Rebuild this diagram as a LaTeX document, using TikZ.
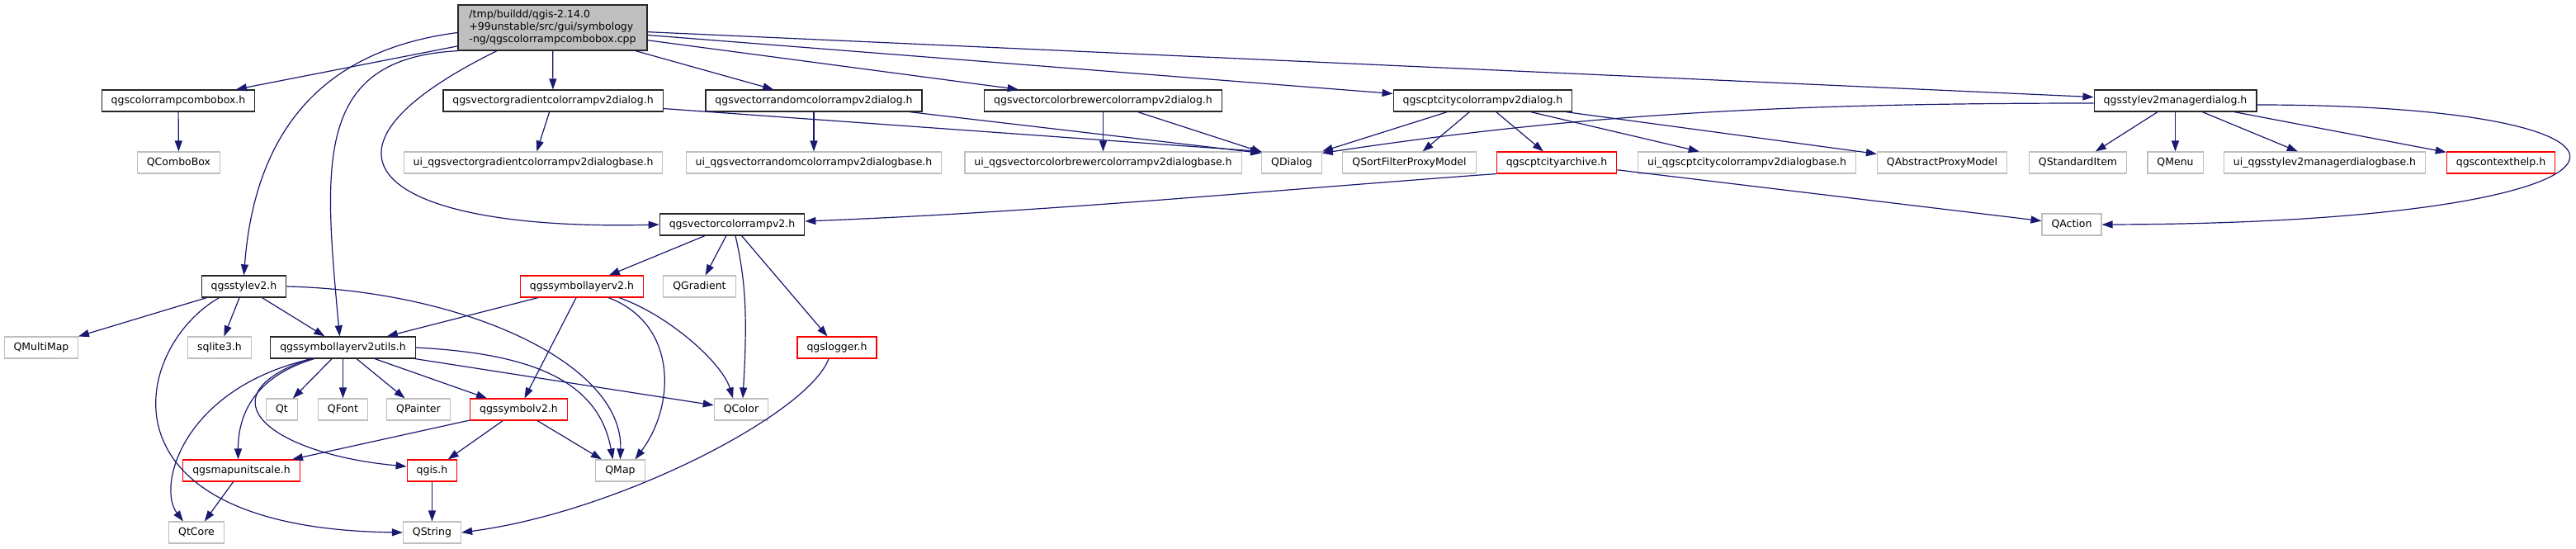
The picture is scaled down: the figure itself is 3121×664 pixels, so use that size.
\documentclass[tikz,border=0pt]{standalone}
\usepackage{fontspec}
\setmainfont{DejaVu Sans}
\usepackage{tikz}
\usetikzlibrary{arrows.meta}
\definecolor{edgeblue}{RGB}{25, 25, 112}
\definecolor{rimgray}{RGB}{191, 191, 191}
\definecolor{rootfill}{RGB}{191, 191, 191}
\definecolor{boxred}{RGB}{255, 0, 0}

\begin{document}
\begin{tikzpicture}[x=1pt, y=-1pt,
  file/.style={draw=black!85, fill=white, line width=1.3pt, minimum height=26pt, inner xsep=11.5pt, inner ysep=0pt, font=\fontsize{12.5}{15}\selectfont},
  ext/.style={file, draw=rimgray, line width=1.1pt},
  trunc/.style={file, draw=boxred, line width=1.1pt},
  inc/.style={draw=edgeblue, line width=1.2pt, -{Triangle[length=13pt, width=9pt]}}
]
  \path[fill=white, use as bounding box] (0,0) rectangle (3121,664);

  % Files
  \node[file, fill=rootfill, align=left, minimum width=229pt, minimum height=55pt] (root) at (669.5,33.5) {/tmp/buildd/qgis-2.14.0\\+99unstable/src/gui/symbology\\-ng/qgscolorrampcombobox.cpp};

  \node[file] (cbh) at (216,122) {qgscolorrampcombobox.h};
  \node[file] (vgd) at (670,122) {qgsvectorgradientcolorrampv2dialog.h};
  \node[file] (vrd) at (986,122) {qgsvectorrandomcolorrampv2dialog.h};
  \node[file] (vbd) at (1336.5,122) {qgsvectorcolorbrewercolorrampv2dialog.h};
  \node[file] (ccd) at (1796.5,122) {qgscptcitycolorrampv2dialog.h};
  \node[file] (smd) at (2635.5,122) {qgsstylev2managerdialog.h};

  \node[ext] (qcb) at (216.5,197) {QComboBox};
  \node[ext] (uvg) at (646,197) {ui\_qgsvectorgradientcolorrampv2dialogbase.h};
  \node[ext] (uvr) at (986,197) {ui\_qgsvectorrandomcolorrampv2dialogbase.h};
  \node[ext] (uvb) at (1336.5,197) {ui\_qgsvectorcolorbrewercolorrampv2dialogbase.h};
  \node[ext] (qdlg) at (1565,197) {QDialog};
  \node[ext] (qsfpm) at (1707.5,197) {QSortFilterProxyModel};
  \node[trunc] (cca) at (1886,197) {qgscptcityarchive.h};
  \node[ext] (ucc) at (2116.5,197) {ui\_qgscptcitycolorrampv2dialogbase.h};
  \node[ext] (qapm) at (2353,197) {QAbstractProxyModel};
  \node[ext] (qsi) at (2517.5,197) {QStandardItem};
  \node[ext] (qmenu) at (2635.5,197) {QMenu};
  \node[ext] (usm) at (2816.5,197) {ui\_qgsstylev2managerdialogbase.h};
  \node[trunc] (cth) at (3030,197) {qgscontexthelp.h};

  \node[file] (vcr) at (887,272) {qgsvectorcolorrampv2.h};
  \node[ext] (qact) at (2510,272) {QAction};

  \node[file] (sty) at (295.5,347) {qgsstylev2.h};
  \node[trunc] (slr) at (705,347) {qgssymbollayerv2.h};
  \node[ext] (qgrad) at (847.5,347) {QGradient};

  \node[ext] (qmm) at (50,421) {QMultiMap};
  \node[ext] (sql) at (266,421) {sqlite3.h};
  \node[file] (slu) at (415.5,421) {qgssymbollayerv2utils.h};
  \node[trunc] (log) at (1014,421) {qgslogger.h};

  \node[ext] (qt) at (341.5,496) {Qt};
  \node[ext] (qfont) at (415.5,496) {QFont};
  \node[ext] (qpainter) at (507,496) {QPainter};
  \node[trunc] (sym) at (628.5,496) {qgssymbolv2.h};
  \node[ext] (qcolor) at (898,496) {QColor};

  \node[trunc] (mus) at (292.5,570) {qgsmapunitscale.h};
  \node[trunc] (qgis) at (523.5,570) {qgis.h};
  \node[ext] (qmap) at (751.5,570) {QMap};

  \node[ext] (qtcore) at (238,645) {QtCore};
  \node[ext] (qstring) at (523.5,645) {QString};

  % Includes of the source file
  \draw[inc] (root) -- (cbh);
  \draw[inc] (root) -- (vgd);
  \draw[inc] (root) -- (vrd);
  \draw[inc] (root) -- (vbd);
  \draw[inc] (root) -- (ccd);
  \draw[inc] (root) -- (smd);
  \draw[inc] ([yshift=-6pt]root.west) .. controls +(-155,20) and +(14,-184) .. (sty.north);
  \draw[inc] (root.south west) .. controls +(-175,9) and +(-19,-208) .. ([xshift=-4pt]slu.north);
  \draw[inc] ([xshift=-67.5pt]root.south) .. controls +(-262,129) and +(-328,8) .. (vcr.west);

  % Dialog headers
  \draw[inc] (cbh) -- (qcb);
  \draw[inc] (vgd) -- (uvg);
  \draw[inc] (vgd) -- (qdlg.north west);
  \draw[inc] (vrd) -- (uvr);
  \draw[inc] (vrd) -- ([yshift=-2pt]qdlg.north west);
  \draw[inc] (vbd) -- (uvb);
  \draw[inc] (vbd) -- ([xshift=1pt, yshift=-1pt]qdlg.north west);
  \draw[inc] (ccd) -- (qdlg.north east);
  \draw[inc] (ccd) -- (qsfpm);
  \draw[inc] (ccd) -- (cca);
  \draw[inc] (ccd) -- (ucc);
  \draw[inc] (ccd) -- (qapm);
  \draw[inc] ([yshift=-3pt]smd.west) .. controls +(-400,0) and +(300,-45) .. ([yshift=-2pt]qdlg.north east);
  \draw[inc] (smd) -- (qsi);
  \draw[inc] (smd) -- (qmenu);
  \draw[inc] (smd) -- (usm);
  \draw[inc] (smd) -- (cth);
  \draw[inc] ([yshift=-5pt]smd.east) .. controls +(545,0) and +(704,-2) .. (qact.east);
  \draw[inc] (cca.south west) .. controls +(-300,22) and +(300,-12) .. ([yshift=4pt]vcr.east);
  \draw[inc] (cca) -- (qact);

  % Symbology headers
  \draw[inc] (vcr) -- (slr);
  \draw[inc] (vcr) -- (qgrad);
  \draw[inc] ([xshift=4pt]vcr.south) .. controls +(14,60) and +(5,-90) .. ([xshift=2pt]qcolor.north);
  \draw[inc] (vcr) -- (log);
  \draw[inc] (slr) -- (slu);
  \draw[inc] (slr) -- (sym);
  \draw[inc] ([xshift=45pt]slr.south) .. controls +(60,21) and +(-13,-43) .. ([xshift=-10pt]qcolor.north);
  \draw[inc] ([xshift=32pt]slr.south) .. controls +(83,31) and +(50,-67) .. ([xshift=18pt]qmap.north);
  \draw[inc] (sty) -- (qmm);
  \draw[inc] (sty) -- (sql);
  \draw[inc] (sty) -- (slu);
  \draw[inc] (sty.east) .. controls +(213,5) and +(3.5,-117) .. (qmap.north);
  \draw[inc] ([xshift=-30pt]sty.south) .. controls +(-105,60) and +(-378,-5) .. (qstring.west);
  \draw[inc] (slu) -- (qt);
  \draw[inc] (slu) -- (qfont);
  \draw[inc] (slu) -- (qpainter);
  \draw[inc] (slu) -- (sym);
  \draw[inc] (slu) -- (qcolor);
  \draw[inc] (slu.east) .. controls +(137,7) and +(-17.5,-97) .. ([xshift=-9pt]qmap.north);
  \draw[inc] ([xshift=-35pt]slu.south) .. controls +(-70,21) and +(0,-57) .. ([xshift=-4pt]mus.north);
  \draw[inc] ([xshift=-40pt]slu.south) .. controls +(-135,46) and +(-163,-15) .. ([yshift=5pt]qgis.west);
  \draw[inc] ([xshift=-38pt]slu.south) .. controls +(-157,36) and +(-32,-42) .. ([xshift=-16pt]qtcore.north);
  \draw[inc] (sym) -- (mus);
  \draw[inc] (sym) -- (qgis);
  \draw[inc] (sym) -- (qmap);
  \draw[inc] (mus) -- (qtcore);
  \draw[inc] (qgis) -- (qstring);
  \draw[inc] ([xshift=-10pt]log.south) .. controls +(-24,66) and +(191,-25) .. (qstring.east);
\end{tikzpicture}
\end{document}
